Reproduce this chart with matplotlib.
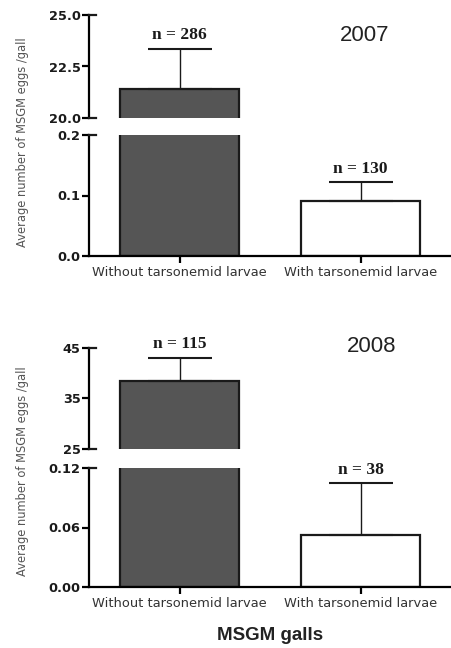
import numpy as np
import matplotlib.pyplot as plt

categories = ["Without tarsonemid larvae", "With tarsonemid larvae"]

# 2007 season
means_2007 = [21.4, 0.091]
err_2007 = [1.95, 0.032]
n_2007 = [286, 130]

# 2008 season
means_2008 = [38.5, 0.052]
err_2008 = [4.5, 0.053]
n_2008 = [115, 38]

bar_colors = ["#555555", "white"]
DPI = 100
W, H = 451, 648

plt.rcParams["font.family"] = ["DejaVu Sans"]


def frac(px_left, px_top, px_right, px_bottom):
    return [px_left / W, 1 - px_bottom / H, (px_right - px_left) / W, (px_bottom - px_top) / H]


def style_axis(ax, ticks, labels, lw=1.6):
    for s in ["top", "right"]:
        ax.spines[s].set_visible(False)
    ax.spines["left"].set_linewidth(lw)
    ax.spines["bottom"].set_linewidth(lw)
    ax.set_yticks(ticks)
    ax.set_yticklabels(labels, fontsize=9.3, fontweight="bold", color="#1a1a1a")
    ax.tick_params(axis="y", direction="out", length=5, width=lw, pad=1)


def draw_bars(ax, means, errs, show_err):
    x = np.arange(len(means))
    ax.bar(x, means, width=0.66, color=bar_colors, edgecolor="#1a1a1a",
           linewidth=1.6, zorder=2)
    for i in show_err:
        ax.errorbar(x[i], means[i], yerr=[[0], [errs[i]]], fmt="none",
                    ecolor="#1a1a1a", elinewidth=1.0, capsize=23, capthick=1.5,
                    zorder=3)
    ax.set_xlim(-0.5, 1.5)


def n_label(ax, i, top, n, offset):
    ax.annotate(f"n = {n}", (i, top), xytext=(0, offset), textcoords="offset points",
                ha="center", va="center", fontsize=12.5, fontweight="bold",
                family=["Liberation Serif"], color="#1a1a1a", annotation_clip=False)


def panel(fig, rects, means, errs, ns, upper_lim, upper_ticks, upper_labels,
          lower_lim, lower_ticks, lower_labels, year, year_pos, ylab_y):
    top = fig.add_axes(frac(*rects[0]))
    bot = fig.add_axes(frac(*rects[1]))

    draw_bars(top, means, errs, [0])
    top.set_ylim(*upper_lim)
    style_axis(top, upper_ticks, upper_labels)
    top.spines["bottom"].set_visible(False)
    top.set_xticks([])

    draw_bars(bot, means, errs, [1])
    bot.set_ylim(*lower_lim)
    style_axis(bot, lower_ticks, lower_labels)
    bot.set_xticks([0, 1])
    bot.set_xticklabels(categories, fontsize=9.4, color="#333333")
    bot.tick_params(axis="x", direction="out", length=5, width=1.6, pad=2)

    n_label(top, 0, means[0] + errs[0], ns[0], 10)
    n_label(bot, 1, means[1] + errs[1], ns[1], 9)

    top.text(year_pos[0], year_pos[1], year, transform=top.transAxes,
             ha="center", va="center", fontsize=16, color="#222222",
             family=["Liberation Sans"])

    fig.text(23 / W, 1 - ylab_y / H, "Average number of MSGM eggs /gall",
             rotation=90, ha="center", va="center", fontsize=8.3, color="#555555")

    # cross ticks at the break edges
    for ax, yv in [(top, upper_lim[0]), (top, upper_lim[1]), (bot, lower_lim[1])]:
        ax.plot([0, 0.02], [yv, yv], color="#1a1a1a", lw=1.6,
                transform=ax.get_yaxis_transform(), clip_on=False, zorder=4)


fig = plt.figure(figsize=(W / DPI, H / DPI), dpi=DPI)

panel(fig, [(89, 15, 451, 118), (89, 135, 451, 256)],
      means_2007, err_2007, n_2007,
      (20, 25), [20, 22.5, 25], ["20.0", "22.5", "25.0"],
      (0, 0.2), [0, 0.1, 0.2], ["0.0", "0.1", "0.2"],
      "2007", (0.762, 0.80), 142)

panel(fig, [(89, 348, 451, 449), (89, 468, 451, 587)],
      means_2008, err_2008, n_2008,
      (25, 45), [25, 35, 45], ["25", "35", "45"],
      (0, 0.12), [0, 0.06, 0.12], ["0.00", "0.06", "0.12"],
      "2008", (0.78, 1.01), 471)

fig.text(270 / W, 1 - 636 / H, "MSGM galls", ha="center", va="center",
         fontsize=13.5, fontweight="bold", color="#222222",
         family=["Liberation Sans"])

fig.savefig("out.png", dpi=DPI)
